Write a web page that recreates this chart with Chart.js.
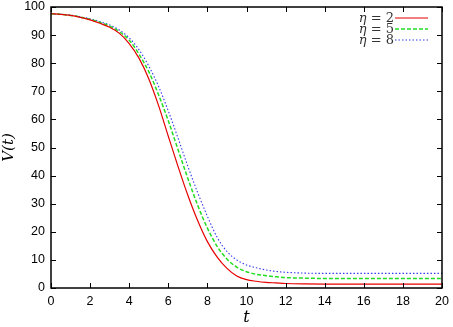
<!DOCTYPE html>
<html>
<head>
<meta charset="utf-8">
<script src="https://cdn.jsdelivr.net/npm/chart.js@4"></script>
<style>
  html, body { margin: 0; padding: 0; background: #fff; }
  #wrap { width: 453px; height: 327px; }
</style>
</head>
<body>
<div id="wrap"><canvas id="chart" width="453" height="327"></canvas></div>
<script>
// values
const tValues = [0, 0.5, 1, 1.5, 2, 2.5, 3, 3.5, 4, 4.5, 5, 5.5, 6, 6.5, 7, 7.5, 8, 8.5, 9, 9.5, 10, 10.5, 11, 11.5, 12, 13, 14, 16, 18, 20];
const vEta2 = [97.6, 97.4, 97.0, 96.3, 95.4, 94.2, 92.8, 90.6, 87.0, 81.8, 74.5, 65.0, 54.0, 43.2, 33.0, 24.0, 16.5, 11.0, 7.0, 4.3, 3.0, 2.4, 2.0, 1.8, 1.6, 1.45, 1.4, 1.4, 1.4, 1.4];
const vEta5 = [97.6, 97.4, 97.0, 96.4, 95.6, 94.5, 93.2, 91.2, 88.2, 83.2, 77.0, 68.8, 59.5, 49.2, 39.0, 29.5, 21.3, 14.8, 10.3, 7.4, 5.8, 4.9, 4.4, 4.0, 3.7, 3.5, 3.4, 3.4, 3.4, 3.4];
const vEta8 = [97.6, 97.4, 97.1, 96.5, 95.8, 94.8, 93.6, 91.8, 89.0, 84.8, 79.0, 71.8, 63.0, 53.3, 43.3, 34.0, 25.5, 18.0, 13.0, 10.0, 8.2, 7.2, 6.4, 5.9, 5.6, 5.3, 5.2, 5.2, 5.2, 5.2];
const seriesLabels = ['2', '5', '8'];
const xTicks = [0, 2, 4, 6, 8, 10, 12, 14, 16, 18, 20];
const yTicks = [0, 10, 20, 30, 40, 50, 60, 70, 80, 90, 100];

const toPoints = (vals) => vals.map((v, i) => ({ x: tValues[i], y: v }));

const colors = ['#e60000', '#22dd22', '#3a3aee'];
const dashes = [[], [4, 2], [1.5, 2]];
const widths = [1.2, 1.5, 1.1];

// gnuplot style frame with inward ticks on all sides
const framePlugin = {
    id: 'frame',
    afterDraw(chart) {
        const { ctx, chartArea, scales } = chart;
        const { left, right, top, bottom } = chartArea;
        ctx.save();
        ctx.strokeStyle = '#000';
        ctx.lineWidth = 1.5;
        ctx.strokeRect(left, top, right - left, bottom - top);
        ctx.lineWidth = 1;
        ctx.beginPath();
        scales.x.ticks.forEach((t) => {
            const px = Math.round(scales.x.getPixelForValue(t.value)) + 0.5;
            ctx.moveTo(px, bottom);
            ctx.lineTo(px, bottom - 5);
            ctx.moveTo(px, top);
            ctx.lineTo(px, top + 5);
        });
        scales.y.ticks.forEach((t) => {
            const py = Math.round(scales.y.getPixelForValue(t.value)) + 0.5;
            ctx.moveTo(left, py);
            ctx.lineTo(left + 5, py);
            ctx.moveTo(right, py);
            ctx.lineTo(right - 5, py);
        });
        ctx.stroke();
        ctx.restore();
    }
};

// legend: text on the left, line sample on the right
const keyPlugin = {
    id: 'key',
    afterDraw(chart) {
        const { ctx, chartArea } = chart;
        const xEnd = chartArea.right - 14;
        const lineLen = 33;
        ctx.save();
        chart.data.datasets.forEach((ds, i) => {
            const y = chartArea.top + 11 + i * 11;
            const xText = xEnd - lineLen - 1;
            ctx.textBaseline = 'middle';
            ctx.fillStyle = '#333';
            ctx.font = '13px "DejaVu Serif"';
            const rest = ' = ' + seriesLabels[i];
            const restW = ctx.measureText(rest).width;
            ctx.textAlign = 'right';
            ctx.fillText(rest, xText, y + 1);
            ctx.font = 'italic 13px "DejaVu Serif"';
            ctx.fillText('η', xText - restW, y + 1);
            ctx.strokeStyle = ds.borderColor;
            ctx.lineWidth = ds.borderWidth;
            ctx.setLineDash(ds.borderDash || []);
            ctx.beginPath();
            ctx.moveTo(xEnd - lineLen, y);
            ctx.lineTo(xEnd, y);
            ctx.stroke();
            ctx.setLineDash([]);
        });
        ctx.restore();
    }
};

const ctx = document.getElementById('chart').getContext('2d');
new Chart(ctx, {
    type: 'line',
    data: {
        datasets: [vEta2, vEta5, vEta8].map((vals, i) => ({
            label: 'η = ' + seriesLabels[i],
            data: toPoints(vals),
            borderColor: colors[i],
            borderWidth: widths[i],
            borderDash: dashes[i],
            pointRadius: 0,
            fill: false,
            cubicInterpolationMode: 'monotone',
        })),
    },
    options: {
        responsive: false,
        animation: false,
        layout: {
            padding: { top: 7, right: 11, left: 0, bottom: 0 },
        },
        plugins: {
            legend: { display: false },
            tooltip: { enabled: false },
        },
        scales: {
            x: {
                type: 'linear',
                min: 0,
                max: 20,
                afterBuildTicks: (scale) => {
                    scale.ticks = xTicks.map((v) => ({ value: v }));
                },
                afterFit: (scale) => {
                    scale.height = 39;
                    scale.paddingLeft = 0;
                    scale.paddingRight = 0;
                },
                grid: { display: false, drawTicks: false },
                border: { display: false },
                ticks: {
                    color: '#000',
                    padding: 6,
                    maxRotation: 0,
                    font: { family: 'Liberation Sans', size: 12.5 },
                },
                title: {
                    display: true,
                    text: 't',
                    color: '#000',
                    padding: { top: 4, bottom: 0 },
                    font: { family: 'DejaVu Serif', style: 'italic', size: 16 },
                },
            },
            y: {
                min: 0,
                max: 100,
                afterBuildTicks: (scale) => {
                    scale.ticks = yTicks.map((v) => ({ value: v }));
                },
                afterFit: (scale) => {
                    scale.width = 51;
                    scale.paddingTop = 0;
                    scale.paddingBottom = 0;
                },
                grid: { display: false, drawTicks: false },
                border: { display: false },
                ticks: {
                    color: '#000',
                    padding: 6,
                    font: { family: 'Liberation Sans', size: 12.5 },
                },
                title: {
                    display: true,
                    text: 'V(t)',
                    color: '#000',
                    padding: { top: 0, bottom: 0 },
                    font: { family: 'DejaVu Serif', style: 'italic', size: 15 },
                },
            },
        },
    },
    plugins: [framePlugin, keyPlugin],
});
</script>
</body>
</html>
